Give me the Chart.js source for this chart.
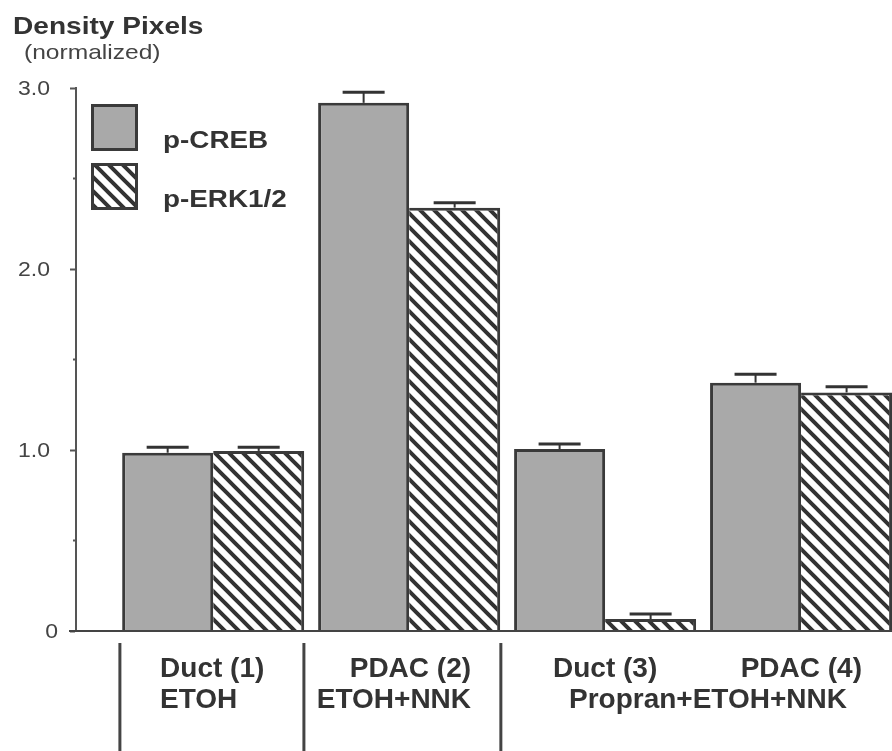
<!DOCTYPE html>
<html>
<head>
<meta charset="utf-8">
<script src="https://cdn.jsdelivr.net/npm/chart.js@4"></script>
<style>
  html, body { margin: 0; padding: 0; background: #fff; }
  canvas { display: block; }
</style>
</head>
<body>
<canvas id="densityChart" width="892" height="751"></canvas>
<script>
// values (normalized density pixels)
const groups = [1, 2, 3, 4];
const pCreb = [0.985, 2.918, 1.005, 1.372];
const pCrebErr = [0.03, 0.058, 0.028, 0.046];
const pErk = [0.995, 2.339, 0.066, 1.318];
const pErkErr = [0.02, 0.027, 0.028, 0.032];

const yTicks = [0, 0.5, 1, 1.5, 2, 2.5, 3];
const yTickLabels = { 0: "0", 1: "1.0", 2: "2.0", 3: "3.0" };

const cellLabels = ["Duct (1)", "PDAC (2)", "Duct (3)", "PDAC (4)"];
const treatLabels = ["ETOH", "ETOH+NNK", "Propran+ETOH+NNK"];

const INK = "#333";
const GREY = "#a9a9a9";

function makeHatch(ctx) {
  const s = 14;
  const c = document.createElement("canvas");
  c.width = s;
  c.height = s;
  const g = c.getContext("2d");
  g.fillStyle = "#fff";
  g.fillRect(0, 0, s, s);
  g.strokeStyle = INK;
  g.lineWidth = 4;
  g.beginPath();
  for (let k = -1; k <= 1; k++) {
    g.moveTo(k * s - 3, -3);
    g.lineTo(k * s + s + 3, s + 3);
  }
  g.stroke();
  return ctx.createPattern(c, "repeat");
}

// text drawn a bit wider, like the original lettering
function wideText(ctx, text, x, y, font, sx, align) {
  ctx.save();
  ctx.font = font;
  ctx.textAlign = "left";
  ctx.textBaseline = "alphabetic";
  const w = ctx.measureText(text).width * sx;
  let x0 = x;
  if (align === "right") x0 = x - w;
  if (align === "center") x0 = x - w / 2;
  ctx.translate(x0, y);
  ctx.scale(sx, 1);
  ctx.fillText(text, 0, 0);
  ctx.restore();
}

const errorBars = {
  id: "errorBars",
  afterDatasetsDraw(chart) {
    const { ctx } = chart;
    const y = chart.scales.y;
    ctx.save();
    ctx.strokeStyle = INK;
    chart.data.datasets.forEach((ds, di) => {
      chart.getDatasetMeta(di).data.forEach((bar, i) => {
        const yTop = y.getPixelForValue(ds.data[i].y + ds.errors[i]);
        ctx.lineWidth = 2;
        ctx.beginPath();
        ctx.moveTo(bar.x, bar.y);
        ctx.lineTo(bar.x, yTop);
        ctx.stroke();
        ctx.lineWidth = 3;
        ctx.beginPath();
        ctx.moveTo(bar.x - 21, yTop);
        ctx.lineTo(bar.x + 21, yTop);
        ctx.stroke();
      });
    });
    ctx.restore();
  },
};

// baseline at zero, short minor ticks and the y tick labels (slightly widened)
const axisExtras = {
  id: "axisExtras",
  afterDatasetsDraw(chart) {
    const { ctx, chartArea } = chart;
    const y = chart.scales.y;
    const y0 = y.getPixelForValue(0);
    ctx.save();
    ctx.strokeStyle = "#444";
    ctx.lineWidth = 2;
    ctx.beginPath();
    ctx.moveTo(chartArea.left - 7, y0);
    ctx.lineTo(chartArea.right, y0);
    ctx.stroke();
    ctx.strokeStyle = "#555";
    yTicks.forEach((v) => {
      if (v % 1 === 0) return;
      const py = y.getPixelForValue(v);
      ctx.beginPath();
      ctx.moveTo(chartArea.left - 3, py);
      ctx.lineTo(chartArea.left, py);
      ctx.stroke();
    });
    ctx.fillStyle = "#444";
    yTicks.forEach((v) => {
      const t = yTickLabels[v];
      if (!t) return;
      const right = v === 0 ? chartArea.left - 18 : chartArea.left - 26;
      wideText(ctx, t, right, y.getPixelForValue(v) + 7,
        "20px 'Liberation Sans', Arial, sans-serif", 1.15, "right");
    });
    ctx.restore();
  },
};

const boxLegend = {
  id: "boxLegend",
  afterDraw(chart) {
    const { ctx, chartArea } = chart;
    ctx.save();
    chart.data.datasets.forEach((ds, i) => {
      const bx = chartArea.left + 15;
      const by = chartArea.top + 16 + i * 59;
      ctx.fillStyle = ds.backgroundColor;
      ctx.fillRect(bx, by, 47, 47);
      ctx.strokeStyle = ds.borderColor;
      ctx.lineWidth = 3;
      ctx.strokeRect(bx + 1.5, by + 1.5, 44, 44);
      ctx.fillStyle = INK;
      wideText(ctx, ds.label, chartArea.left + 87, by + 44,
        "bold 24px 'Liberation Sans', Arial, sans-serif", 1.16, "left");
    });
    ctx.restore();
  },
};

const headings = {
  id: "headings",
  afterDraw(chart) {
    const { ctx } = chart;
    ctx.save();
    ctx.fillStyle = INK;
    wideText(ctx, "Density Pixels", 13, 34,
      "bold 24px 'Liberation Sans', Arial, sans-serif", 1.17, "left");
    ctx.fillStyle = "#444";
    wideText(ctx, "(normalized)", 24, 59,
      "21px 'Liberation Sans', Arial, sans-serif", 1.17, "left");
    ctx.restore();
  },
};

// group captions under the axis, placed in x-scale units
const groupCaptions = {
  id: "groupCaptions",
  afterDraw(chart, args, opts) {
    const { ctx, chartArea } = chart;
    const x = chart.scales.x;
    ctx.save();
    ctx.strokeStyle = "#444";
    ctx.lineWidth = 3;
    opts.dividers.forEach((v) => {
      const px = x.getPixelForValue(v);
      ctx.beginPath();
      ctx.moveTo(px, chartArea.bottom + 12);
      ctx.lineTo(px, chart.height);
      ctx.stroke();
    });
    ctx.fillStyle = INK;
    const font = "bold 28px 'Liberation Sans', Arial, sans-serif";
    opts.items.forEach((it) => {
      const yy = chartArea.bottom + (it.row === 0 ? 46 : 77);
      wideText(ctx, it.text, x.getPixelForValue(it.at), yy, font, 1, it.align);
    });
    ctx.restore();
  },
};

const ctx = document.getElementById("densityChart").getContext("2d");
const hatch = makeHatch(ctx);

new Chart(ctx, {
  type: "bar",
  data: {
    datasets: [
      {
        label: "p-CREB",
        data: groups.map((g, i) => ({ x: g, y: pCreb[i] })),
        errors: pCrebErr,
        backgroundColor: GREY,
        borderColor: "#3a3a3a",
        borderWidth: { top: 3, left: 3, right: 3, bottom: 0 },
        borderSkipped: false,
      },
      {
        label: "p-ERK1/2",
        data: groups.map((g, i) => ({ x: g, y: pErk[i] })),
        errors: pErkErr,
        backgroundColor: hatch,
        borderColor: "#3a3a3a",
        borderWidth: { top: 3, left: 0, right: 3, bottom: 0 },
        borderSkipped: false,
      },
    ],
  },
  options: {
    responsive: false,
    animation: false,
    layout: { padding: { top: 88, bottom: 120, left: 0, right: 0 } },
    datasets: { bar: { categoryPercentage: 0.929, barPercentage: 1 } },
    scales: {
      x: {
        type: "linear",
        min: 0.3,
        max: 4.464,
        offset: false,
        display: false,
        afterBuildTicks: (s) => { s.ticks = groups.map((v) => ({ value: v })); },
      },
      y: {
        min: 0,
        max: 3,
        afterFit: (s) => { s.width = 76; },
        afterBuildTicks: (s) => { s.ticks = yTicks.map((v) => ({ value: v })); },
        border: { color: "#555", width: 2 },
        grid: {
          drawOnChartArea: false,
          tickLength: 6,
          tickWidth: 2,
          tickColor: (c) => (c.tick && c.tick.value % 1 === 0 ? "#555" : "rgba(0,0,0,0)"),
        },
        ticks: { display: false },
      },
    },
    plugins: {
      legend: { display: false },
      tooltip: { enabled: false },
      groupCaptions: {
        dividers: [0.524, 1.463, 2.468],
        items: [
          { text: cellLabels[0], at: 0.729, align: "left", row: 0 },
          { text: treatLabels[0], at: 0.729, align: "left", row: 1 },
          { text: cellLabels[1], at: 2.316, align: "right", row: 0 },
          { text: treatLabels[1], at: 2.316, align: "right", row: 1 },
          { text: cellLabels[2], at: 2.734, align: "left", row: 0 },
          { text: cellLabels[3], at: 4.311, align: "right", row: 0 },
          { text: treatLabels[2], at: 3.525, align: "center", row: 1 },
        ],
      },
    },
  },
  plugins: [axisExtras, errorBars, boxLegend, headings, groupCaptions],
});
</script>
</body>
</html>
